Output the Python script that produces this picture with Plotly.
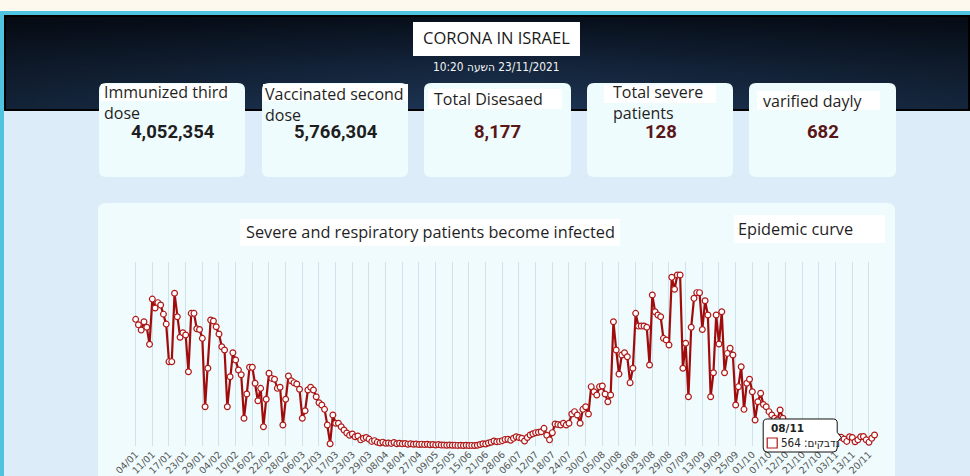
import base64
import plotly.graph_objects as go

W, H = 970, 476

# ---------------- data ----------------
tick_labels = ["04/01", "11/01", "17/01", "23/01", "29/01", "04/02", "10/02", "16/02", "22/02",
               "28/02", "06/03", "12/03", "17/03", "23/03", "29/03", "08/04", "18/04", "27/04",
               "09/05", "25/05", "15/06", "21/06", "28/06", "06/07", "12/07", "18/07", "24/07",
               "30/07", "05/08", "10/08", "16/08", "23/08", "29/08", "07/09", "13/09", "19/09",
               "25/09", "01/10", "07/10", "12/10", "21/10", "27/10", "03/11", "13/11", "20/11"]

infected = [
    8260, 7900, 7560, 8100, 7740, 6630,
    9580, 9000, 9350, 9190, 8600, 7950, 5500, 5500,
    9960, 8430, 7090, 7390, 7240, 4840,
    8650, 8650, 7650, 7600, 7020, 2560, 5070,
    8215, 8150, 7780, 7300, 6470, 6260, 2560,
    4520, 6080, 5610, 4960, 4650, 1810,
    3390, 5130, 5130, 4090, 2950, 3760, 1260,
    3050, 4740, 4410, 4350, 3760, 3830, 1370,
    3050, 4560, 4260, 4130, 4040, 3700, 1810,
    2300, 3650, 3830, 3650, 3210, 2820, 2670, 2390,
    1370, 150, 2020, 1480, 1480, 1260, 1040,
    850, 700, 780, 600, 650, 400, 500, 550, 450, 300, 350, 250, 200, 250, 180,
    200, 170, 230, 150, 180, 140, 160, 120, 150, 110, 130, 100, 120, 90, 110, 80, 100, 70, 90, 60,
    60, 50, 70, 45, 55, 40, 50, 35, 45, 30, 40, 35, 45,
    100, 150, 130, 200, 250, 330, 280,
    300, 350, 430, 440, 380, 500, 600, 550, 500, 330,
    550, 720, 800, 870, 900, 930, 1150, 700, 400, 870, 1430, 1400, 1370, 1480, 1370, 1480,
    2090, 2240, 2020, 1480, 2390, 2560, 2090, 3870, 3540, 3330, 3870, 3910, 3390, 2890, 3330,
    8100, 6260, 4690, 5930, 6080, 5820, 4130,
    5070, 8650, 7820, 7820, 7820, 7740, 5280,
    9850, 8760, 8540, 8430, 7020, 6910, 6590,
    11000, 10220, 11150, 11150, 5070, 6700, 3210,
    7740, 9630, 10000, 10000, 7600, 9470, 8540, 3210,
    4780, 8540, 6650, 8760, 4780, 6040, 6370, 5930, 2670,
    3870, 5170, 2390, 4090, 4350, 3540, 1700, 2890, 3440,
    2700, 2560, 2240, 2020, 1810, 1700, 2350, 1810, 1480,
    1300, 1200, 600, 900, 1100, 1000, 950, 850, 800, 450, 650, 750, 700, 650, 600, 350, 500, 600, 580,
    564, 450, 300, 600, 550, 280, 400, 600, 620, 400, 250, 500, 720,
]
points = list(range(len(infected)))
tick_step = 6

card_titles = ["Immunized third<br>dose", "Vaccinated second<br>dose", "Total Disesaed",
               "Total severe<br>patients", "varified dayly"]
card_values = ["4,052,354", "5,766,304", "8,177", "128", "682"]
card_value_colors = ["#1e1e1e", "#1e1e1e", "#5a1616", "#5a1616", "#5a1616"]

tooltip_date = "08/11"
tooltip_value = 564
tooltip_label = "נדבקים"


# ---------------- helpers ----------------
def px(x):
    return x / W


def py(y):
    return 1 - y / H


def rect(x0, y0, x1, y1, fill, line_color=None, line_width=0, layer="below"):
    return dict(type="rect", xref="paper", yref="paper", x0=px(x0), x1=px(x1),
                y0=py(y1), y1=py(y0), fillcolor=fill, layer=layer,
                line=dict(color=line_color or fill, width=line_width))


def rrect(x0, y0, x1, y1, r, fill, line_color=None, line_width=0, layer="below"):
    def p(x, y):
        return f"{px(x):.5f},{py(y):.5f}"
    path = (f"M {p(x0 + r, y0)} L {p(x1 - r, y0)} Q {p(x1, y0)} {p(x1, y0 + r)} "
            f"L {p(x1, y1 - r)} Q {p(x1, y1)} {p(x1 - r, y1)} L {p(x0 + r, y1)} "
            f"Q {p(x0, y1)} {p(x0, y1 - r)} L {p(x0, y0 + r)} Q {p(x0, y0)} {p(x0 + r, y0)} Z")
    return dict(type="path", xref="paper", yref="paper", path=path, fillcolor=fill,
                layer=layer, line=dict(color=line_color or fill, width=line_width))


def text(x, y, s, size, color="#222", family="Open Sans, Noto Sans, sans-serif",
         xanchor="center", yanchor="middle", weight="normal", align="left"):
    return dict(x=px(x), y=py(y), xref="paper", yref="paper", text=s, showarrow=False,
                xanchor=xanchor, yanchor=yanchor, align=align,
                font=dict(size=size, color=color, family=family, weight=weight))


shapes = []
annotations = []

# top strip and cyan frame
shapes.append(rect(0, 0, W, 12, "#fdf9ee"))
shapes.append(rect(0, 11, W, 15, "#4fc3df"))
shapes.append(rect(0, 11, 4, H, "#4fc3df"))

# header gradient image
svg = ('<svg xmlns="http://www.w3.org/2000/svg" width="966" height="96" viewBox="0 0 966 96" '
       'preserveAspectRatio="none"><defs>'
       '<linearGradient id="g" x1="0" y1="0" x2="0" y2="1">'
       '<stop offset="0" stop-color="#070e1a"/><stop offset="0.55" stop-color="#15273f"/>'
       '<stop offset="1" stop-color="#1d3656"/></linearGradient>'
       '<linearGradient id="h" x1="0" y1="0" x2="1" y2="0">'
       '<stop offset="0" stop-color="#000" stop-opacity="0.35"/>'
       '<stop offset="0.5" stop-color="#000" stop-opacity="0"/>'
       '<stop offset="1" stop-color="#000" stop-opacity="0.3"/></linearGradient></defs>'
       '<rect width="966" height="96" fill="url(#g)"/>'
       '<rect width="966" height="96" fill="url(#h)"/>'
       '<rect x="1" y="1" width="964" height="94" fill="none" stroke="#000" stroke-width="2"/></svg>')
header_src = "data:image/svg+xml;base64," + base64.b64encode(svg.encode()).decode()
images = [dict(source=header_src, xref="paper", yref="paper", x=px(4), y=py(15),
               sizex=966 / W, sizey=96 / H, xanchor="left", yanchor="top",
               sizing="stretch", layer="below")]

# title box
shapes.append(rect(413, 22, 580, 56, "#ffffff"))
annotations.append(text(497, 38, "CORONA IN ISRAEL", 16.5, "#1a1a1a"))
annotations.append(text(497, 67, "10:20 השעה\u200e 23/11/2021", 11.8, "#f4f4f4",
                        family="DejaVu Sans Condensed, DejaVu Sans, sans-serif"))

# cards
card_x = [(99, 245), (262, 408), (424, 571), (587, 733), (749, 896)]
label_boxes = [(101, 84, 230, 101), (263, 84, 408, 101), (428, 89, 562, 109),
               (604, 85, 716, 103), (757, 91, 880, 110)]
label_pos = [(102, 102), (263, 104), (432, 99), (611, 102), (761, 101)]
for i, (x0, x1) in enumerate(card_x):
    shapes.append(rrect(x0, 83, x1, 177, 7, "#effcfd"))
    bx0, by0, bx1, by1 = label_boxes[i]
    shapes.append(rect(bx0, by0, bx1, by1, "#ffffff"))
    lx, ly = label_pos[i]
    annotations.append(text(lx, ly, card_titles[i], 16, "#1f1f1f", xanchor="left",
                            yanchor="middle"))
    annotations.append(text((x0 + x1) / 2 + 0.5, 131.5, card_values[i], 18.5, card_value_colors[i],
                            family="Roboto, DejaVu Sans Condensed, sans-serif", weight="bold"))

# chart panel
shapes.append(rrect(98, 203, 895, 500, 8, "#effbfd"))
shapes.append(rect(240, 219, 620, 246, "#ffffff"))
annotations.append(text(430, 232, "Severe and respiratory patients become infected", 16.3, "#1f1f1f"))
shapes.append(rect(734, 215, 885, 243, "#ffffff"))
annotations.append(text(736, 229, "Epidemic curve", 16.3, "#1f1f1f", xanchor="left"))

# ---------------- chart ----------------
fig = go.Figure()
fig.add_trace(go.Scatter(
    x=points, y=infected, mode="lines+markers",
    line=dict(color="#a00c0c", width=2.2),
    marker=dict(size=5.8, color="#ffffff", line=dict(color="#b01818", width=1.2)),
    cliponaxis=False, hoverinfo="skip", showlegend=False,
))

x_dom = (130.1, 880.1)
y_dom = (262, 446)

# tooltip
ti = tick_labels.index("03/11") * tick_step + 2
tip_x = x_dom[0] + (points[ti] + 2) / 270 * (x_dom[1] - x_dom[0])
tip_y = y_dom[1] - tooltip_value / 12000 * (y_dom[1] - y_dom[0])
bx1 = tip_x - 4
bx0 = bx1 - 74
by0, by1 = 419, 452
r = 4


def pp(x, y):
    return f"{px(x):.5f},{py(y):.5f}"


tip_path = (f"M {pp(bx0 + r, by0)} L {pp(bx1 - r, by0)} Q {pp(bx1, by0)} {pp(bx1, by0 + r)} "
            f"L {pp(bx1, tip_y - 5)} L {pp(tip_x, tip_y)} L {pp(bx1, tip_y + 5)} "
            f"L {pp(bx1, by1 - r)} Q {pp(bx1, by1)} {pp(bx1 - r, by1)} L {pp(bx0 + r, by1)} "
            f"Q {pp(bx0, by1)} {pp(bx0, by1 - r)} L {pp(bx0, by0 + r)} Q {pp(bx0, by0)} {pp(bx0 + r, by0)} Z")
shapes.append(dict(type="path", xref="paper", yref="paper", path=tip_path, fillcolor="#ffffff",
                   layer="above", line=dict(color="#111111", width=1)))
shapes.append(dict(type="rect", xref="paper", yref="paper", x0=px(bx0 + 4), x1=px(bx0 + 14),
                   y0=py(448), y1=py(438), fillcolor="#ffffff", layer="above",
                   line=dict(color="#b01818", width=1.2)))
annotations.append(text(bx0 + 6, 428, f"<b>{tooltip_date}</b>", 10.5, "#222", xanchor="left",
                        family="DejaVu Sans, sans-serif"))
annotations.append(text(bx0 + 16, 443, f"{tooltip_value} :{tooltip_label}", 11.5, "#222",
                        xanchor="left", family="DejaVu Sans Condensed, DejaVu Sans, sans-serif"))

fig.update_layout(
    width=W, height=H,
    margin=dict(l=0, r=0, t=0, b=0, autoexpand=False),
    paper_bgcolor="#dcedf9",
    plot_bgcolor="rgba(0,0,0,0)",
    shapes=shapes,
    annotations=annotations,
    images=images,
    xaxis=dict(domain=[px(x_dom[0]), px(x_dom[1])], range=[-2, 268],
               tickvals=points[::tick_step][:len(tick_labels)], ticktext=tick_labels,
               tickangle=-45, tickfont=dict(size=9.5, color="#555555", family="DejaVu Sans, sans-serif"),
               showgrid=True, gridcolor="#d0e2ec", gridwidth=1, zeroline=False, showline=False,
               ticks=""),
    yaxis=dict(domain=[py(y_dom[1]), py(y_dom[0])], range=[0, 12000], showticklabels=False,
               showgrid=False, zeroline=False, showline=False),
    hovermode=False,
)

fig.write_html("out.html", config={"displayModeBar": False, "staticPlot": True},
               post_script="document.body.style.margin='0px';document.body.style.overflow='hidden';")
